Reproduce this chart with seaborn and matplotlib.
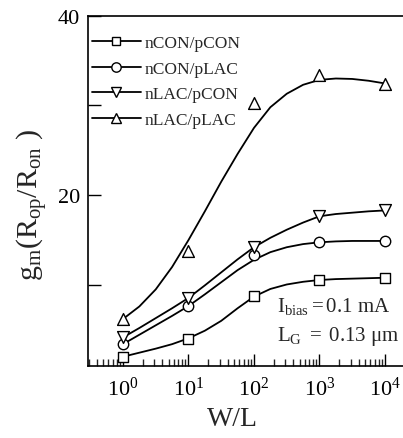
import numpy as np
import pandas as pd
import matplotlib
matplotlib.use("Agg")
import matplotlib.pyplot as plt
import matplotlib.ticker as mticker
from matplotlib.lines import Line2D
import seaborn as sns

# ---- data ----
wl = [1, 10, 100, 1000, 10000]
nCON_pCON = [2.0, 4.0, 8.8, 10.6, 10.8]
nCON_pLAC = [3.4, 7.6, 13.3, 14.8, 14.9]
nLAC_pCON = [4.15, 8.5, 14.2, 17.7, 18.3]
nLAC_pLAC = [6.2, 13.8, 30.3, 33.4, 32.4]

# smooth guide curves, read at quarter decades
curve_logx = [0, 0.25, 0.5, 0.75, 1.0, 1.25, 1.5, 1.75, 2.0, 2.25, 2.5, 2.75, 3.0, 3.25, 3.5, 3.75, 4.0]
curve_nCON_pCON = [2.0, 2.45, 2.9, 3.4, 4.05, 4.9, 6.0, 7.4, 8.7, 9.55, 10.05, 10.35, 10.55, 10.65, 10.7, 10.75, 10.8]
curve_nCON_pLAC = [3.4, 4.45, 5.5, 6.55, 7.65, 8.95, 10.3, 11.65, 12.8, 13.65, 14.2, 14.55, 14.75, 14.85, 14.9, 14.9, 14.9]
curve_nLAC_pCON = [4.15, 5.2, 6.3, 7.4, 8.55, 9.95, 11.4, 12.85, 14.2, 15.25, 16.15, 16.95, 17.65, 17.9, 18.05, 18.2, 18.3]
curve_nLAC_pLAC = [6.2, 7.6, 9.5, 12.0, 15.0, 18.2, 21.5, 24.6, 27.5, 29.8, 31.3, 32.3, 32.85, 33.0, 32.95, 32.75, 32.45]

labels = ["nCON/pCON", "nCON/pLAC", "nLAC/pCON", "nLAC/pLAC"]
markers = ["s", "o", "v", "^"]
msizes = [7, 7.5, 8.5, 8.5]

sns.set_style("ticks")
plt.rcParams["font.family"] = ["Liberation Serif", "DejaVu Serif"]
plt.rcParams["mathtext.fontset"] = "stix"

fig = plt.figure(figsize=(4.03, 4.39), dpi=100)
ax = fig.add_axes([0.219, 0.1647, 0.781, 0.7973])

series = [nCON_pCON, nCON_pLAC, nLAC_pCON, nLAC_pLAC]
curves = [curve_nCON_pCON, curve_nCON_pLAC, curve_nLAC_pCON, curve_nLAC_pLAC]
cx = [10 ** v for v in curve_logx]

for lab, vals, cv, mk, ms in zip(labels, series, curves, markers, msizes):
    dfc = pd.DataFrame({"x": cx, "y": cv})
    sns.lineplot(data=dfc, x="x", y="y", ax=ax, color="black", lw=1.3, zorder=2, legend=False)
    dfp = pd.DataFrame({"x": wl, "y": vals})
    sns.scatterplot(data=dfp, x="x", y="y", ax=ax, marker=mk, s=ms ** 2,
                    facecolor="white", edgecolor="black", linewidth=1.0, zorder=3, legend=False)

ax.set_xscale("log")
ax.set_xlim(10 ** -0.53, 10 ** 4.275)
ax.set_ylim(1, 40)

ax.xaxis.set_major_locator(mticker.LogLocator(base=10, numticks=10))
ax.xaxis.set_minor_locator(mticker.LogLocator(base=10, subs=np.arange(2, 10), numticks=20))
ax.xaxis.set_minor_formatter(mticker.NullFormatter())
ax.yaxis.set_major_locator(mticker.FixedLocator([10, 20, 30, 40]))
ax.yaxis.set_major_formatter(mticker.FuncFormatter(lambda v, p: "%d" % v if v in (20, 40) else ""))

ax.tick_params(axis="both", which="major", direction="in", length=9, width=1.0, labelsize=16, colors="black")
ax.tick_params(axis="x", which="minor", direction="in", length=5, width=1.0)
ax.tick_params(axis="x", which="major", pad=8, labelsize=16)
ax.tick_params(axis="y", which="major", pad=6)

for s in ["left", "bottom", "top"]:
    ax.spines[s].set_linewidth(1.2)
    ax.spines[s].set_color("black")
ax.spines["right"].set_visible(False)

ax.set_xlabel("W/L", fontsize=20, labelpad=2)
ax.xaxis.set_label_coords(0.457, -0.115)
ax.set_ylabel(r"$\mathregular{g_m(R_{op}/R_{on}\ )}$", fontsize=21.5)
ax.yaxis.set_label_coords(-0.12, 0.462)

handles = [Line2D([0], [0], color="black", lw=1.3, marker=mk, markersize=ms * 0.9,
                  markerfacecolor="white", markeredgecolor="black", markeredgewidth=1.0)
           for mk, ms in zip(markers, msizes)]
ax.legend(handles, labels, loc="upper left", bbox_to_anchor=(0.012, 0.945), frameon=False,
          fontsize=12.5, handlelength=2.8, handletextpad=0.2, labelspacing=0.55,
          borderpad=0, borderaxespad=0)

ax.text(0.60, 0.171, r"$\mathregular{I_{bias}}$$\mathregular{=0.1\ mA}$", transform=ax.transAxes,
        fontsize=15, va="center", ha="left")
ax.text(0.60, 0.085, r"$\mathregular{L_G\ =\ 0.13\ \mu m}$", transform=ax.transAxes,
        fontsize=15, va="center", ha="left")

fig.savefig("out.png", dpi=100)
